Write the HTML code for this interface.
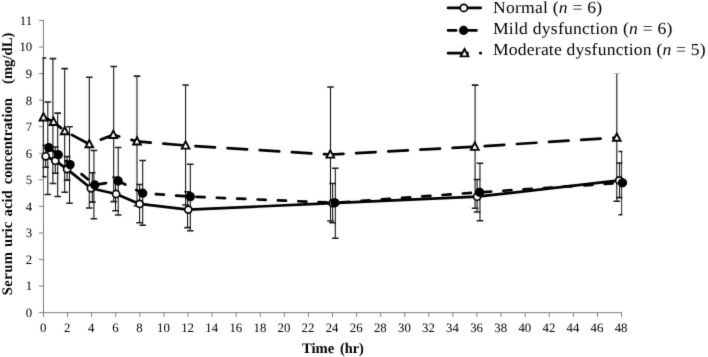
<!DOCTYPE html>
<html><head><meta charset="utf-8"><title>Serum uric acid concentration</title>
<style>
html,body{margin:0;padding:0;background:#fff;}
body{width:708px;height:357px;overflow:hidden;position:relative;font-family:"Liberation Serif",serif;}
</style></head><body>
<svg width="708" height="357" viewBox="0 0 708 357" style="position:absolute;left:0;top:0;display:block;text-rendering:geometricPrecision;filter:url(#bl)">
<rect width="708" height="357" fill="#fff"/>
<defs><filter id="bl" filterUnits="userSpaceOnUse" x="0" y="0" width="708" height="357" color-interpolation-filters="sRGB"><feConvolveMatrix order="3" kernelMatrix="0.0113 0.0838 0.0113 0.0838 0.6193 0.0838 0.0113 0.0838 0.0113" edgeMode="duplicate" preserveAlpha="true"/></filter></defs>
<defs><clipPath id="pa"><rect x="42.3" y="0" width="580.1" height="313"/></clipPath></defs>
<g fill="none" stroke="#7e7e7e" stroke-width="1">
<path d="M43.5 19.97V312.63H622.02"/>
<path d="M39 312.63H43.5M39 286.07H43.5M39 259.51H43.5M39 232.95H43.5M39 206.39H43.5M39 179.83H43.5M39 153.27H43.5M39 126.71H43.5M39 100.15H43.5M39 73.59H43.5M39 47.03H43.5M39 20.47H43.5M43.5 312.63V317M67.58 312.63V317M91.67 312.63V317M115.75 312.63V317M139.84 312.63V317M163.92 312.63V317M188.0 312.63V317M212.09 312.63V317M236.17 312.63V317M260.26 312.63V317M284.34 312.63V317M308.42 312.63V317M332.51 312.63V317M356.59 312.63V317M380.68 312.63V317M404.76 312.63V317M428.84 312.63V317M452.93 312.63V317M477.01 312.63V317M501.1 312.63V317M525.18 312.63V317M549.26 312.63V317M573.35 312.63V317M597.43 312.63V317M621.52 312.63V317"/>
</g>
<g clip-path="url(#pa)" fill="none" stroke="#0a0a0a" stroke-width="1.05">
<path d="M45.70 145.3V167.3"/><path stroke="#1a1a1a" stroke-width="1.55" d="M42.40 145.3H49.00M42.40 167.3H49.00"/>
<path d="M55.30 146.9V173.2"/><path stroke="#1a1a1a" stroke-width="1.55" d="M52.00 146.9H58.60M52.00 173.2H58.60"/>
<path d="M67.10 156.6V180.1"/><path stroke="#1a1a1a" stroke-width="1.55" d="M63.80 156.6H70.40M63.80 180.1H70.40"/>
<path d="M92.30 172.8V202.1"/><path stroke="#1a1a1a" stroke-width="1.55" d="M89.00 172.8H95.60M89.00 202.1H95.60"/>
<path d="M115.50 177.2V210.8"/><path stroke="#1a1a1a" stroke-width="1.55" d="M112.20 177.2H118.80M112.20 210.8H118.80"/>
<path d="M139.60 184.5V222.7"/><path stroke="#1a1a1a" stroke-width="1.55" d="M136.30 184.5H142.90M136.30 222.7H142.90"/>
<path d="M187.60 191.7V227.6"/><path stroke="#1a1a1a" stroke-width="1.55" d="M184.30 191.7H190.90M184.30 227.6H190.90"/>
<path d="M332.60 183.4V222.8"/><path stroke="#1a1a1a" stroke-width="1.55" d="M329.30 183.4H335.90M329.30 222.8H335.90"/>
<path d="M477.10 179.5V211.9"/><path stroke="#1a1a1a" stroke-width="1.55" d="M473.80 179.5H480.40M473.80 211.9H480.40"/>
<path d="M619.60 162.9V197.6"/><path stroke="#1a1a1a" stroke-width="1.55" d="M616.30 162.9H622.90M616.30 197.6H622.90"/>
<path d="M47.80 102.0V194.4"/><path stroke="#1a1a1a" stroke-width="1.55" d="M44.50 102.0H51.10M44.50 194.4H51.10"/>
<path d="M57.70 113.1V196.5"/><path stroke="#1a1a1a" stroke-width="1.55" d="M54.40 113.1H61.00M54.40 196.5H61.00"/>
<path d="M69.50 126.7V203.3"/><path stroke="#1a1a1a" stroke-width="1.55" d="M66.20 126.7H72.80M66.20 203.3H72.80"/>
<path d="M93.90 150.4V218.7"/><path stroke="#1a1a1a" stroke-width="1.55" d="M90.60 150.4H97.20M90.60 218.7H97.20"/>
<path d="M118.20 147.4V215.0"/><path stroke="#1a1a1a" stroke-width="1.55" d="M114.90 147.4H121.50M114.90 215.0H121.50"/>
<path d="M142.70 160.5V225.2"/><path stroke="#1a1a1a" stroke-width="1.55" d="M139.40 160.5H146.00M139.40 225.2H146.00"/>
<path d="M190.30 164.3V230.7"/><path stroke="#1a1a1a" stroke-width="1.55" d="M187.00 164.3H193.60M187.00 230.7H193.60"/>
<path d="M335.30 168.2V238.3"/><path stroke="#1a1a1a" stroke-width="1.55" d="M332.00 168.2H338.60M332.00 238.3H338.60"/>
<path d="M479.95 163.2V220.8"/><path stroke="#1a1a1a" stroke-width="1.55" d="M476.65 163.2H483.25M476.65 220.8H483.25"/>
<path d="M621.75 151.5V214.7"/><path stroke="#1a1a1a" stroke-width="1.55" d="M618.45 151.5H625.05M618.45 214.7H625.05"/>
<path d="M43.15 57.9V176.7"/><path stroke="#1a1a1a" stroke-width="1.55" d="M39.85 57.9H46.45M39.85 176.7H46.45"/>
<path d="M52.90 58.6V183.5"/><path stroke="#1a1a1a" stroke-width="1.55" d="M49.60 58.6H56.20M49.60 183.5H56.20"/>
<path d="M64.70 68.6V192.2"/><path stroke="#1a1a1a" stroke-width="1.55" d="M61.40 68.6H68.00M61.40 192.2H68.00"/>
<path d="M89.30 77.2V207.9"/><path stroke="#1a1a1a" stroke-width="1.55" d="M86.00 77.2H92.60M86.00 207.9H92.60"/>
<path d="M113.70 66.4V201.6"/><path stroke="#1a1a1a" stroke-width="1.55" d="M110.40 66.4H117.00M110.40 201.6H117.00"/>
<path d="M137.00 76.1V205.7"/><path stroke="#1a1a1a" stroke-width="1.55" d="M133.70 76.1H140.30M133.70 205.7H140.30"/>
<path d="M185.60 85.0V205.0"/><path stroke="#1a1a1a" stroke-width="1.55" d="M182.30 85.0H188.90M182.30 205.0H188.90"/>
<path d="M330.50 87.0V221.0"/><path stroke="#1a1a1a" stroke-width="1.55" d="M327.20 87.0H333.80M327.20 221.0H333.80"/>
<path d="M475.10 85.1V208.2"/><path stroke="#1a1a1a" stroke-width="1.55" d="M471.80 85.1H478.40M471.80 208.2H478.40"/>
<path d="M616.80 72.9V201.2"/><path stroke="#1a1a1a" stroke-width="1.55" d="M613.50 72.9H620.10M613.50 201.2H620.10"/>
</g>
<g fill="none" stroke="#000" stroke-width="2.7" stroke-linejoin="round" stroke-linecap="round">
<polyline points="45.7,156.3 55.3,160.7 67.1,169.1 90.9,188.3 116.1,194.0 139.6,203.9 188.3,209.6 332.6,203.2 477.1,196.7 619.2,180.4"/>
<polyline points="48.8,147.7 58.3,154.7 70.1,164.6 94.7,185.0 118.2,181.0 142.7,193.2 190.3,196.6 334.9,202.8" stroke-dasharray="8.1 12.27" stroke-dashoffset="-1.35"/>
<polyline points="334.9,202.8 479.6,192.3 622.5,182.8" stroke-dasharray="8.1 12.2" stroke-dashoffset="13.85"/>
<polyline points="43.5,117.3 53.5,121.8 64.7,131.1 89.3,144.1 113.3,134.8 137.0,141.4 185.6,145.5 330.3,154.5 474.8,146.7 616.8,137.6" stroke-dasharray="19.5 12.7" stroke-dashoffset="-1.35"/>
</g>
<g fill="#fff" stroke="#000" stroke-width="1.7">
<circle cx="45.7" cy="156.3" r="3.55"/>
<circle cx="55.3" cy="160.7" r="3.55"/>
<circle cx="67.1" cy="169.1" r="3.55"/>
<circle cx="90.9" cy="188.3" r="3.55"/>
<circle cx="116.1" cy="194.0" r="3.55"/>
<circle cx="139.6" cy="203.9" r="3.55"/>
<circle cx="188.3" cy="209.6" r="3.55"/>
<circle cx="332.6" cy="203.2" r="3.55"/>
<circle cx="477.1" cy="196.7" r="3.55"/>
<circle cx="619.2" cy="180.4" r="3.55"/>
</g>
<g fill="#000" stroke="#000" stroke-width="1.3">
<circle cx="48.8" cy="147.7" r="4.0"/>
<circle cx="58.3" cy="154.7" r="4.0"/>
<circle cx="70.1" cy="164.6" r="4.0"/>
<circle cx="94.7" cy="185.0" r="4.0"/>
<circle cx="118.2" cy="181.0" r="4.0"/>
<circle cx="142.7" cy="193.2" r="4.0"/>
<circle cx="190.3" cy="196.6" r="4.0"/>
<circle cx="334.9" cy="202.8" r="4.0"/>
<circle cx="479.6" cy="192.3" r="4.0"/>
<circle cx="622.5" cy="182.8" r="4.0"/>
</g>
<g fill="#fff" stroke="#000" stroke-width="1.9" stroke-linejoin="miter">
<path d="M43.50 113.15L47.35 120.45H39.65Z"/>
<path d="M53.50 117.65L57.35 124.95H49.65Z"/>
<path d="M64.70 126.95L68.55 134.25H60.85Z"/>
<path d="M89.30 139.95L93.15 147.25H85.45Z"/>
<path d="M113.30 130.65L117.15 137.95H109.45Z"/>
<path d="M137.00 137.25L140.85 144.55H133.15Z"/>
<path d="M185.60 141.35L189.45 148.65H181.75Z"/>
<path d="M330.30 150.35L334.15 157.65H326.45Z"/>
<path d="M474.80 142.55L478.65 149.85H470.95Z"/>
<path d="M616.80 133.45L620.65 140.75H612.95Z"/>
</g>
<g font-family="'Liberation Serif', serif" font-size="12.8px" fill="#000">
<text x="32.2" y="316.9" text-anchor="end">0</text>
<text x="32.2" y="290.4" text-anchor="end">1</text>
<text x="32.2" y="263.8" text-anchor="end">2</text>
<text x="32.2" y="237.2" text-anchor="end">3</text>
<text x="32.2" y="210.7" text-anchor="end">4</text>
<text x="32.2" y="184.1" text-anchor="end">5</text>
<text x="32.2" y="157.6" text-anchor="end">6</text>
<text x="32.2" y="131.0" text-anchor="end">7</text>
<text x="32.2" y="104.5" text-anchor="end">8</text>
<text x="32.2" y="77.9" text-anchor="end">9</text>
<text x="32.2" y="51.3" text-anchor="end">10</text>
<text x="32.2" y="24.8" text-anchor="end">11</text>
<text x="43.1" y="332" text-anchor="middle">0</text>
<text x="67.2" y="332" text-anchor="middle">2</text>
<text x="91.3" y="332" text-anchor="middle">4</text>
<text x="115.4" y="332" text-anchor="middle">6</text>
<text x="139.4" y="332" text-anchor="middle">8</text>
<text x="163.5" y="332" text-anchor="middle">10</text>
<text x="187.6" y="332" text-anchor="middle">12</text>
<text x="211.7" y="332" text-anchor="middle">14</text>
<text x="235.8" y="332" text-anchor="middle">16</text>
<text x="259.9" y="332" text-anchor="middle">18</text>
<text x="283.9" y="332" text-anchor="middle">20</text>
<text x="308.0" y="332" text-anchor="middle">22</text>
<text x="332.1" y="332" text-anchor="middle">24</text>
<text x="356.2" y="332" text-anchor="middle">26</text>
<text x="380.3" y="332" text-anchor="middle">28</text>
<text x="404.4" y="332" text-anchor="middle">30</text>
<text x="428.4" y="332" text-anchor="middle">32</text>
<text x="452.5" y="332" text-anchor="middle">34</text>
<text x="476.6" y="332" text-anchor="middle">36</text>
<text x="500.7" y="332" text-anchor="middle">38</text>
<text x="524.8" y="332" text-anchor="middle">40</text>
<text x="548.9" y="332" text-anchor="middle">42</text>
<text x="572.9" y="332" text-anchor="middle">44</text>
<text x="597.0" y="332" text-anchor="middle">46</text>
<text x="621.1" y="332" text-anchor="middle">48</text>
</g>
<g font-family="'Liberation Serif', serif" font-weight="bold" font-size="14.67px" fill="#000">
<text x="302.0" y="353">Time</text><text x="339.9" y="353" textLength="23.9" lengthAdjust="spacingAndGlyphs">(hr)</text>
<text transform="translate(11.7 295.3) rotate(-90)" textLength="43.4" lengthAdjust="spacing">Serum</text>
<text transform="translate(11.7 246.9) rotate(-90)">uric</text>
<text transform="translate(11.7 216.4) rotate(-90)">acid</text>
<text transform="translate(11.7 184.3) rotate(-90)">concentration</text>
<text transform="translate(11.7 84.0) rotate(-90)">(mg/dL)</text>
</g>
<rect x="440" y="0" width="268" height="73.6" fill="#fff"/>
<g fill="none" stroke="#000" stroke-width="2.7" stroke-linecap="round">
<path d="M448.05 7.95H480.65"/>
<path d="M448.05 30.4H476.6" stroke-dasharray="8.1 12.2"/>
<path d="M448.05 53.2H467.5M480.3 53.2H480.75"/>
</g>
<circle cx="463.8" cy="7.95" r="3.6" fill="#fff" stroke="#000" stroke-width="1.7"/>
<circle cx="463.6" cy="30.4" r="3.95" fill="#000" stroke="#000" stroke-width="1.2"/>
<g fill="#fff" stroke="#000" stroke-width="1.9"><path d="M464.50 49.05L468.35 56.35H460.65Z"/></g>
<g font-family="'Liberation Serif', serif" font-size="17px" fill="#000">
<text transform="translate(493.0 13.0) scale(1.035 1)" textLength="105.51" lengthAdjust="spacing">Normal (<tspan font-style="italic">n</tspan> = 6)</text>
<text transform="translate(493.0 34.0) scale(1.035 1)" textLength="173.33" lengthAdjust="spacing">Mild dysfunction (<tspan font-style="italic">n</tspan> = 6)</text>
<text transform="translate(493.0 55.0) scale(1.035 1)" textLength="205.41" lengthAdjust="spacing">Moderate dysfunction (<tspan font-style="italic">n</tspan> = 5)</text>
</g>
</svg>
</body></html>
